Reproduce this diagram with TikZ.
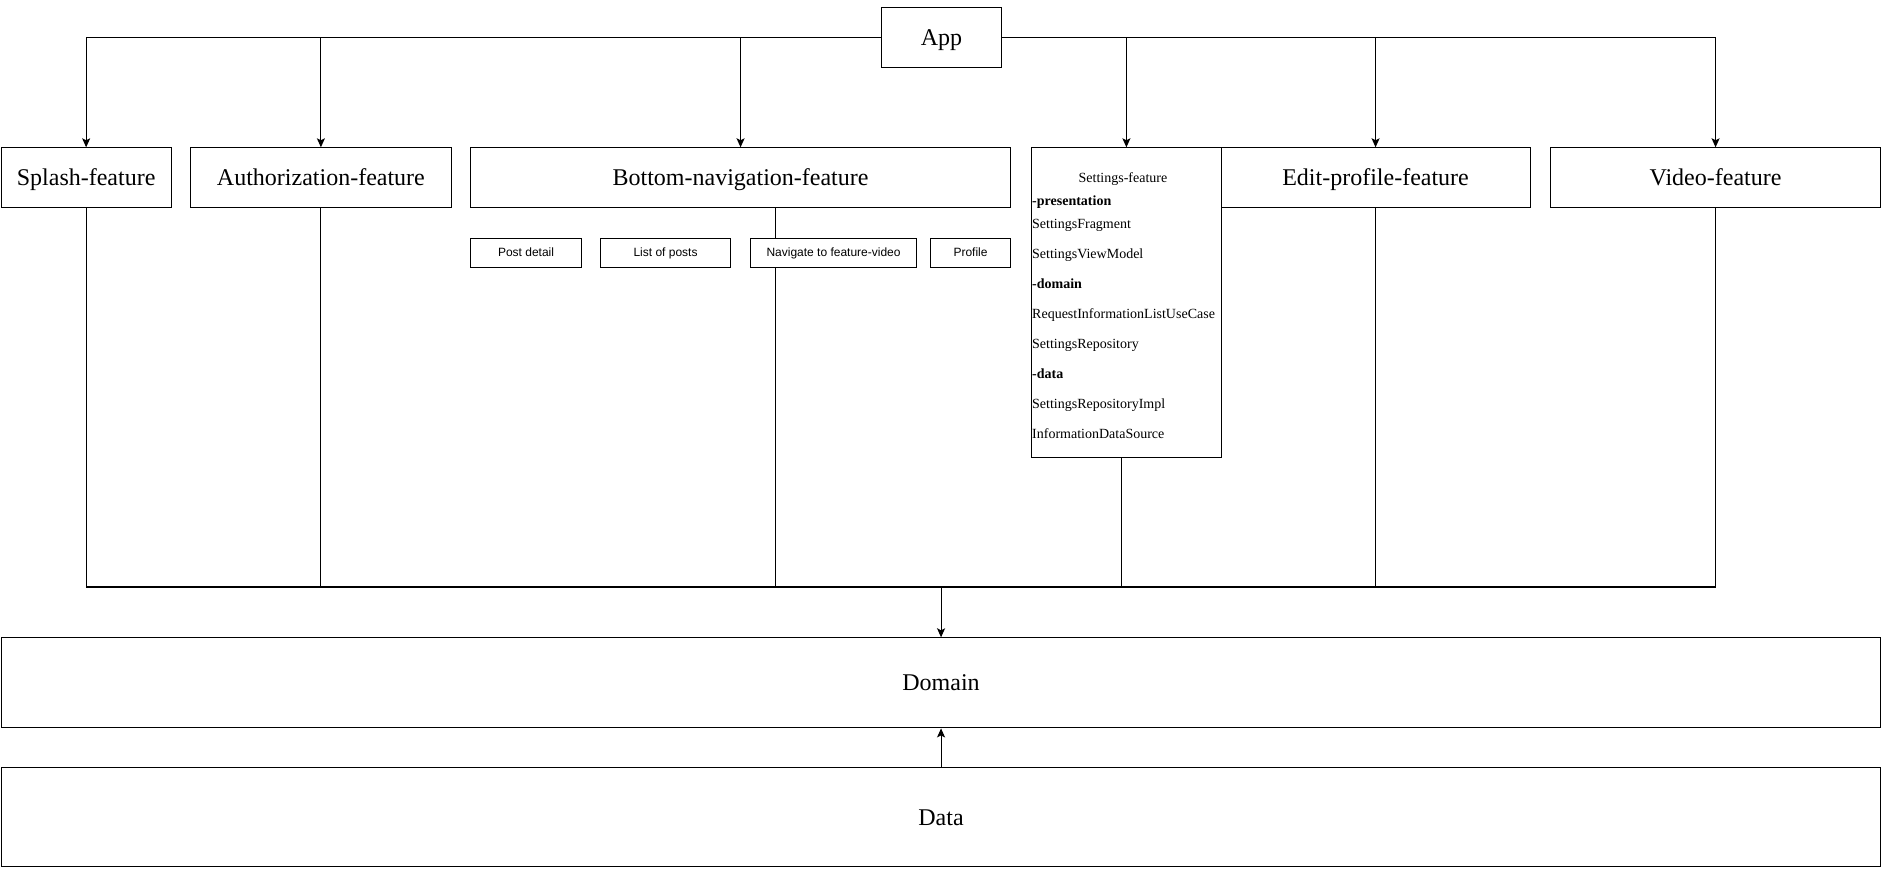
\documentclass[tikz,border=0pt]{standalone}
\usepackage{fontspec}
\setmainfont{Liberation Serif}
\newfontfamily\arialf{Liberation Sans}
\usetikzlibrary{arrows.meta}
\pgfdeclarelayer{bg}
\pgfsetlayers{bg,main}
\begin{document}
\begin{tikzpicture}[x=1pt,y=-1pt,
 box/.style={draw,fill=white,line width=1.1pt,inner sep=0pt,anchor=north west,
   font=\fontsize{24}{28}\selectfont,text height=20pt,text depth=4pt},
 sub/.style={box,font=\arialf\fontsize{12}{14}\selectfont,text height=10pt,text depth=2pt},
 lbl/.style={inner sep=0pt,anchor=west,font=\fontsize{14}{17}\selectfont,text height=10pt,text depth=3pt},
 conn/.style={line width=1.1pt},
 arr/.style={conn,-{Stealth[length=9pt,width=8pt,inset=2pt]}}]
\useasboundingbox (0,0) rectangle (1881,869);
% top
\node[box,minimum width=120,minimum height=60] (app) at (881,7) {App};
% features
\node[box,minimum width=170,minimum height=60] (splash) at (0.6,147.3) {Splash-feature};
\node[box,minimum width=260.7,minimum height=60] (auth) at (190,147.3) {Authorization-feature};
\node[box,minimum width=540,minimum height=60] (bnav) at (470,147.3) {Bottom-navigation-feature};
\node[box,minimum width=310,minimum height=60] (edit) at (1220,147.3) {Edit-profile-feature};
\node[box,minimum width=330,minimum height=60] (video) at (1550,147.3) {Video-feature};
\node[box,minimum width=189.7,minimum height=310] (settings) at (1031,147.3) {};
% settings content
\node[lbl,anchor=center] (s0) at (1123,179) {Settings-feature};
\node[lbl] (s1) at (1032,202) {\bfseries -presentation};
\node[lbl] (s2) at (1032,225) {SettingsFragment};
\node[lbl] (s3) at (1032,255) {SettingsViewModel};
\node[lbl] (s4) at (1032,285) {\bfseries -domain};
\node[lbl] (s5) at (1032,315) {RequestInformationListUseCase};
\node[lbl] (s6) at (1032,345) {SettingsRepository};
\node[lbl] (s7) at (1032,375) {\bfseries -data};
\node[lbl] (s8) at (1032,405) {SettingsRepositoryImpl};
\node[lbl] (s9) at (1032,435) {InformationDataSource};
% bottom-navigation sub boxes
\node[sub,minimum width=111,minimum height=29] (post) at (470,237.5) {Post detail};
\node[sub,minimum width=130,minimum height=29] (list) at (600,237.5) {List of posts};
\node[sub,minimum width=166,minimum height=29] (navv) at (750,237.5) {Navigate to feature-video};
\node[sub,minimum width=80,minimum height=29] (prof) at (930,237.5) {Profile};
% layers
\node[box,minimum width=1879.8,minimum height=90] (domain) at (0.6,637.3) {Domain};
\node[box,minimum width=1879.8,minimum height=99] (data) at (0.6,767) {Data};
\coordinate (bus) at (domain.north |- 0,587);
\begin{pgfonlayer}{bg}
\draw[arr] (app.west) -| (splash.north);
\draw[arr] (app.west) -| (auth.north);
\draw[arr] (app.west) -| (bnav.north);
\draw[arr] (app.east) -| (settings.north);
\draw[arr] (app.east) -| (edit.north);
\draw[arr] (app.east) -| (video.north);
\draw[conn] (splash.south) |- (bus);
\draw[conn] (auth.south) |- (bus);
\draw[conn] ([xshift=35pt]bnav.south) |- (bus);
\draw[conn] ([xshift=-4.5pt]settings.south) |- (bus);
\draw[conn] (edit.south) |- (bus);
\draw[conn] (video.south) |- (bus);
\draw[arr] (bus) -- (domain.north);
\draw[arr] (data.north) -- (domain.south);
\end{pgfonlayer}
\end{tikzpicture}
\end{document}
